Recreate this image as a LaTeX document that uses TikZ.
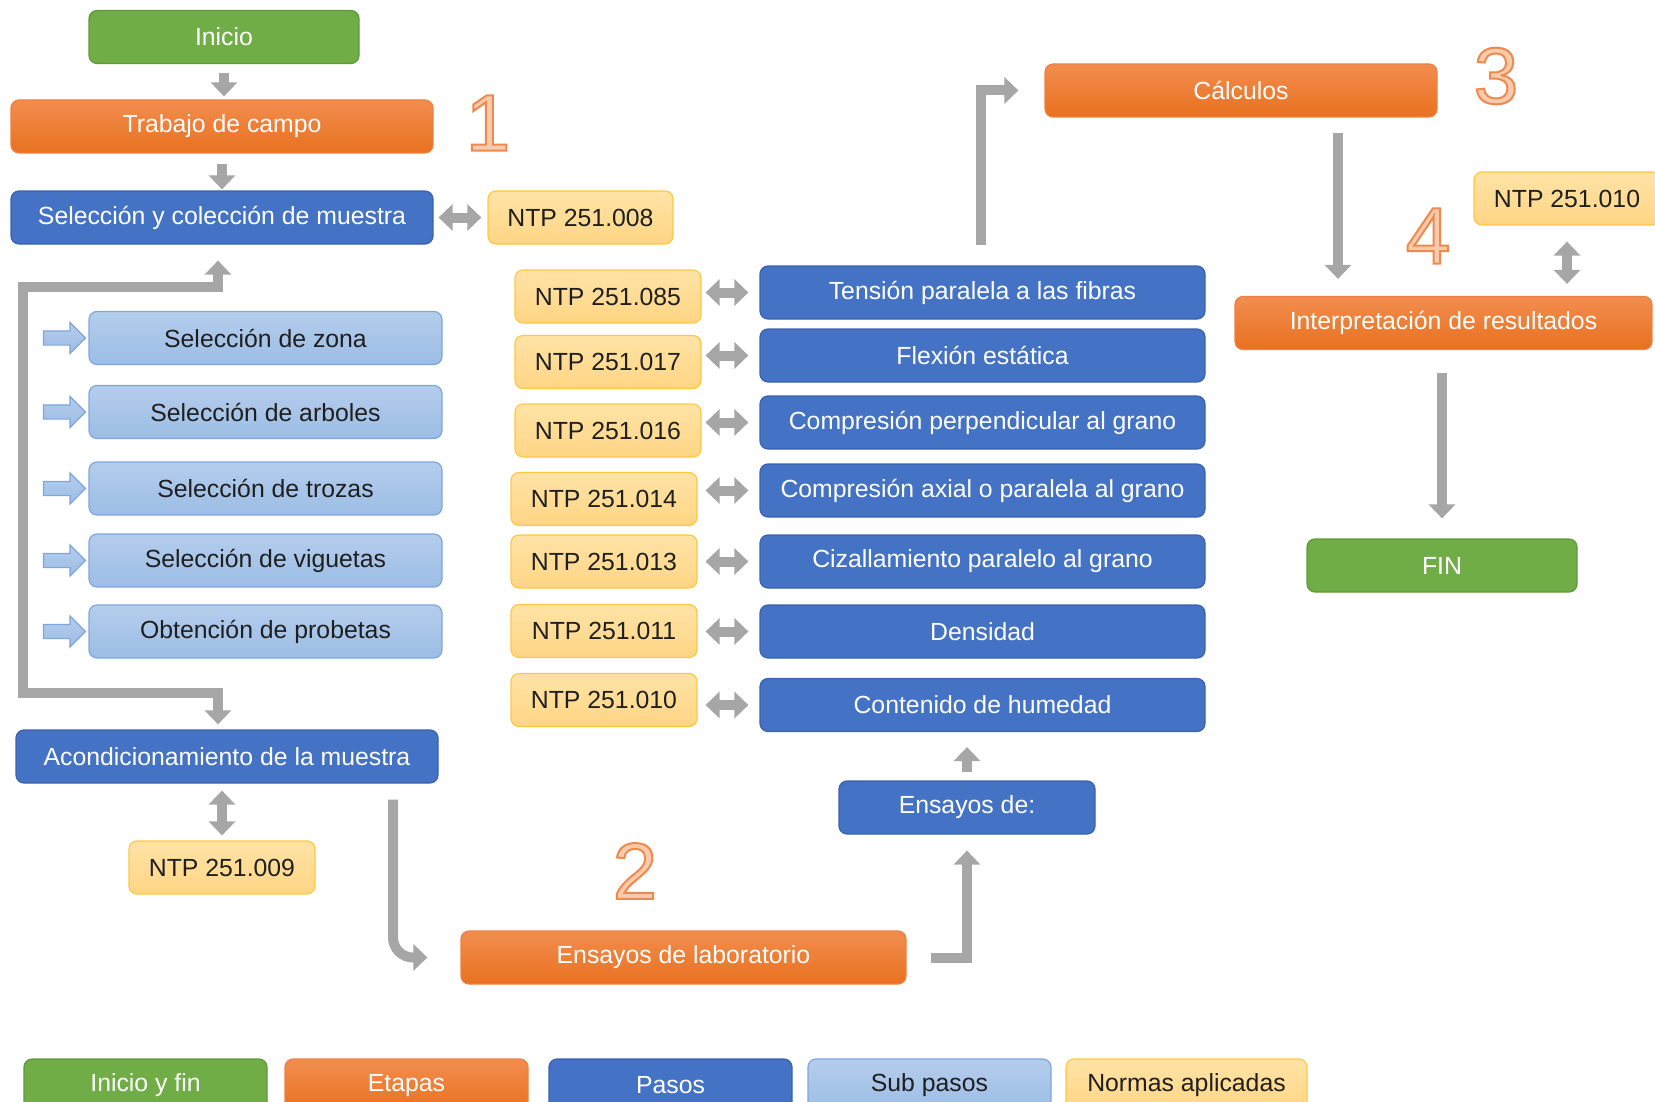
\documentclass[tikz,border=0pt]{standalone}
\usepackage{fontspec}
\setmainfont{Liberation Sans}
\newfontfamily\cifra[FakeBold=2.5]{Liberation Sans}
\usetikzlibrary{arrows.meta,shapes.arrows}

\definecolor{verde}{HTML}{70AD47}
\definecolor{verdeborde}{HTML}{5E9A38}
\definecolor{naranjaalto}{HTML}{F28D4F}
\definecolor{naranjabajo}{HTML}{E8711F}
\definecolor{naranjaborde}{HTML}{EE8040}
\definecolor{azul}{HTML}{4472C4}
\definecolor{azulborde}{HTML}{3A62AE}
\definecolor{celestealto}{HTML}{B4CDEC}
\definecolor{celestebajo}{HTML}{9CBDE5}
\definecolor{celesteborde}{HTML}{7FA6DC}
\definecolor{amarilloalto}{HTML}{FFE3A6}
\definecolor{amarillobajo}{HTML}{FFD584}
\definecolor{amarilloborde}{HTML}{FFC840}
\definecolor{gris}{HTML}{A6A6A6}
\definecolor{texto}{HTML}{1F1F1F}
\definecolor{numfill}{HTML}{F8CBAD}

% cifra con contorno
\newcommand{\etapanum}[1]{\special{pdf:literal 0.933 0.541 0.306 RG}#1}

\tikzset{
  caja/.style={rounded corners=4pt, minimum height=26.5pt, inner sep=0pt, line width=0.6pt,
    font=\fontsize{12.4}{14}\selectfont, text=white},
  extremo/.style={caja, fill=verde, draw=verdeborde, minimum width=135pt},
  etapa/.style={caja, top color=naranjaalto, bottom color=naranjabajo, draw=naranjaborde},
  paso/.style={caja, fill=azul, draw=azulborde},
  subpaso/.style={caja, top color=celestealto, bottom color=celestebajo, draw=celesteborde,
    text=texto, minimum width=176.5pt},
  norma/.style={caja, top color=amarilloalto, bottom color=amarillobajo, draw=amarilloborde,
    text=texto, minimum width=93pt},
  numero/.style={font=\cifra\fontsize{40}{40}\selectfont, text=numfill, inner sep=0pt},
  flecha/.style={draw=gris, line width=5pt, -{Triangle[width=13pt,length=7pt]}},
  doble/.style={draw=gris, line width=5pt,
    {Triangle[width=13pt,length=7pt]}-{Triangle[width=13pt,length=7pt]}},
  marca/.style={single arrow, single arrow head extend=4.25pt, minimum height=21pt,
    inner xsep=0pt, inner ysep=3.25pt, top color=celestealto, bottom color=celestebajo,
    draw=celesteborde, line width=0.6pt}
}

\begin{document}
\begin{tikzpicture}[x=0.5pt, y=-0.5pt]
      \useasboundingbox (0,0) rectangle (1655,1102);
      \clip (0,0) rectangle (1655,1102);

      \node[extremo] (inicio) at (224,37) {Inicio};
      \node[etapa, minimum width=211pt] (campo) at (222,126.5) {Trabajo de campo};
      \node[paso, minimum width=211pt] (seleccion) at (222,217.5) {Selección y colección de muestra};
      \node[norma, minimum width=92.5pt] (n008) at (580.5,217.5) {NTP 251.008};

      \node[subpaso] (zona) at (265.5,338) {Selección de zona};
      \node[subpaso] (arboles) at (265.5,412) {Selección de arboles};
      \node[subpaso] (trozas) at (265.5,488.5) {Selección de trozas};
      \node[subpaso] (viguetas) at (265.5,560.5) {Selección de viguetas};
      \node[subpaso] (probetas) at (265.5,631.5) {Obtención de probetas};
      \node[marca] (m1) at (61,338) {};
      \node[marca] (m2) at (61,412) {};
      \node[marca] (m3) at (61,488.5) {};
      \node[marca] (m4) at (61,560.5) {};
      \node[marca] (m5) at (61,631.5) {};

      \node[paso, minimum width=211pt] (acond) at (227,756.5) {Acondicionamiento de la muestra};
      \node[norma] (n009) at (222,867.5) {NTP 251.009};

      \node[etapa, minimum width=222.5pt] (lab) at (683.5,957.5) {Ensayos de laboratorio};
      \node[paso, minimum width=128pt] (ensayos) at (967,807.5) {Ensayos de:};

      \node[paso, minimum width=222.5pt] (tension) at (982.5,292.5) {Tensión paralela a las fibras};
      \node[paso, minimum width=222.5pt] (flexion) at (982.5,355.5) {Flexión estática};
      \node[paso, minimum width=222.5pt] (cperp) at (982.5,422.5) {Compresión perpendicular al grano};
      \node[paso, minimum width=222.5pt] (caxial) at (982.5,490.5) {Compresión axial o paralela al grano};
      \node[paso, minimum width=222.5pt] (cizalla) at (982.5,561.5) {Cizallamiento paralelo al grano};
      \node[paso, minimum width=222.5pt] (densidad) at (982.5,631.5) {Densidad};
      \node[paso, minimum width=222.5pt] (humedad) at (982.5,705) {Contenido de humedad};

      \node[norma] (n085) at (608,296.5) {NTP 251.085};
      \node[norma] (n017) at (608,362) {NTP 251.017};
      \node[norma] (n016) at (608,430.5) {NTP 251.016};
      \node[norma] (n014) at (604,499) {NTP 251.014};
      \node[norma] (n013) at (604,561.5) {NTP 251.013};
      \node[norma] (n011) at (604,631) {NTP 251.011};
      \node[norma] (n010) at (604,700) {NTP 251.010};

      \node[etapa, minimum width=196pt] (calculos) at (1241,90.5) {Cálculos};
      \node[etapa, minimum width=208.5pt] (interp) at (1443.5,323) {Interpretación de resultados};
      \node[norma] (n010b) at (1567,198.5) {NTP 251.010};
      \node[extremo] (fin) at (1442,565.5) {FIN};

      \node[numero] (uno) at (488,123) {\etapanum{1}};
      \node[numero] (dos) at (635,871) {\etapanum{2}};
      \node[numero] (tres) at (1496,76) {\etapanum{3}};
      \node[numero] (cuatro) at (1428,236) {\etapanum{4}};

      % leyenda
      \node[extremo, minimum width=121.5pt] (ley1) at (145.5,1085.5) {Inicio y fin};
      \node[etapa, minimum width=121.5pt] (ley2) at (406.5,1085.5) {Etapas};
      \node[paso, minimum width=121.5pt] (ley3) at (670.5,1085.5) {Pasos};
      \node[subpaso, minimum width=121.5pt] (ley4) at (929.5,1085.5) {Sub pasos};
      \node[norma, minimum width=120.5pt] (ley5) at (1186.5,1085.5) {Normas aplicadas};

      % flechas
      \coordinate (xb) at (218,0);
      \coordinate (lt) at (23,287);
      \coordinate (lb) at (23,693);
      \coordinate (xa) at (393,0);
      \coordinate (xl) at (931,0);
      \coordinate (xt) at (981,0);
      \coordinate (xc) at (1338,0);

      \draw[flecha, shorten <=4.5pt, shorten >=1.5pt] (inicio.south) -- (inicio.south |- campo.north);
      \draw[flecha, shorten <=5pt, shorten >=0.5pt] (campo.south) -- (campo.south |- seleccion.north);
      \draw[doble, shorten <=2.5pt, shorten >=3pt] (seleccion.east) -- (n008.west);

      \draw[flecha, shorten >=8pt] (lb) -- (lt) -| (seleccion.south -| xb);
      \draw[flecha, shorten >=2.5pt] (lt) -- (lb) -| (acond.north -| xb);

      \draw[doble, shorten <=3.5pt, shorten >=2.5pt] (n009.north |- acond.south) -- (n009.north);
      \draw[flecha, rounded corners=10pt, shorten <=8pt, shorten >=16.5pt]
        (acond.south -| xa) |- (lab.west);
      \draw[flecha, shorten >=8pt] (lab.east -| xl) -| (ensayos.south);
      \draw[flecha, shorten <=4pt, shorten >=7.5pt] (ensayos.north) -- (ensayos.north |- humedad.south);

      \draw[doble, shorten <=2pt, shorten >=5.5pt] (n085.east |- tension) -- (tension.west);
      \draw[doble, shorten <=2pt, shorten >=5.5pt] (n017.east |- flexion) -- (flexion.west);
      \draw[doble, shorten <=2pt, shorten >=5.5pt] (n016.east |- cperp) -- (cperp.west);
      \draw[doble, shorten <=4pt, shorten >=5.5pt] (n014.east |- caxial) -- (caxial.west);
      \draw[doble, shorten <=4pt, shorten >=5.5pt] (n013.east |- cizalla) -- (cizalla.west);
      \draw[doble, shorten <=4pt, shorten >=5.5pt] (n011.east |- densidad) -- (densidad.west);
      \draw[doble, shorten <=4pt, shorten >=5.5pt] (n010.east |- humedad) -- (humedad.west);

      \draw[flecha, shorten <=10pt, shorten >=13pt] (tension.north -| xt) |- (calculos.west);
      \draw[flecha, shorten <=7.5pt, shorten >=8.5pt] (calculos.south -| xc) -- (interp.north -| xc);
      \draw[doble, shorten <=8pt, shorten >=6pt] (n010b.south) -- (n010b.south |- interp.north);
      \draw[flecha, shorten <=11.5pt, shorten >=10pt] (interp.south -| fin.north) -- (fin.north);
\end{tikzpicture}
\end{document}
